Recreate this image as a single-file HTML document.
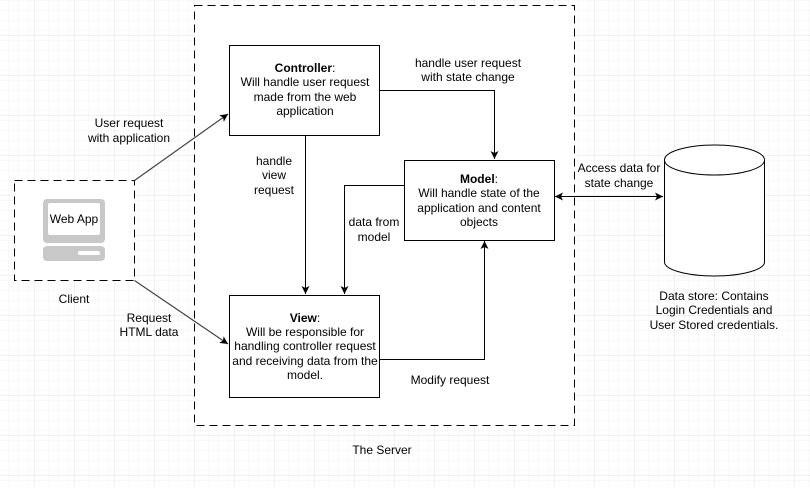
<!DOCTYPE html>
<html><head><meta charset="utf-8"><style>
html,body{margin:0;padding:0;background:#fff}
svg text{font-family:"Liberation Sans",Arial,sans-serif;font-size:12px;fill:#000}
</style></head><body>
<svg width="810" height="486" viewBox="0 0 810 486" xmlns="http://www.w3.org/2000/svg">
<defs>
<pattern id="minor" width="10" height="10" patternUnits="userSpaceOnUse" x="4" y="5">
<path d="M0 0H10M0 0V10" stroke="#f3f3f3" stroke-width="1" fill="none"/>
</pattern>
<pattern id="major" width="40" height="40" patternUnits="userSpaceOnUse" x="34.5" y="35.5">
<rect width="40" height="40" fill="url(#minor)"/>
<path d="M0 0H40M0 0V40" stroke="#e0e0e0" stroke-width="1" fill="none"/>
</pattern>
<marker id="ah" markerWidth="10" markerHeight="10" refX="9" refY="5" orient="auto" markerUnits="userSpaceOnUse">
<path d="M1 1L9 5L1 9L3 5Z" fill="#000"/>
</marker>
<marker id="ahg" markerWidth="10" markerHeight="10" refX="9" refY="5" orient="auto" markerUnits="userSpaceOnUse">
<path d="M1 1L9 5L1 9L3 5Z" fill="#000"/>
</marker>
<marker id="ahs" markerWidth="10" markerHeight="10" refX="1" refY="5" orient="auto" markerUnits="userSpaceOnUse">
<path d="M9 1L1 5L9 9L7 5Z" fill="#000"/>
</marker>
</defs>
<rect width="810" height="486" fill="#fff"/>
<rect width="810" height="486" fill="url(#major)"/>

<!-- server -->
<rect x="194.5" y="5.5" width="380" height="420" fill="#fff" stroke="#000" stroke-dasharray="8 5"/>
<text x="382" y="454" text-anchor="middle">The Server</text>

<!-- client -->
<rect x="14.5" y="180.5" width="120" height="100" fill="#fff" stroke="#000" stroke-dasharray="8 5"/>
<rect x="43" y="199" width="62" height="44" rx="4" fill="#c8c8c8"/>
<rect x="48" y="203" width="52" height="32" rx="2" fill="#fff"/>
<rect x="43" y="246" width="62" height="15" rx="4" fill="#c8c8c8"/>
<rect x="78" y="251" width="22" height="4" rx="2" fill="#fff"/>
<text x="74" y="223" text-anchor="middle">Web App</text>
<text x="74" y="303" text-anchor="middle">Client</text>

<!-- client arrows -->
<line x1="134.5" y1="180.5" x2="228" y2="114" stroke="#444" stroke-width="1.2" marker-end="url(#ahg)"/>
<line x1="134.5" y1="280.5" x2="228" y2="344" stroke="#444" stroke-width="1.2" marker-end="url(#ahg)"/>
<text x="129" y="127" text-anchor="middle">User request</text>
<text x="129" y="142" text-anchor="middle">with application</text>
<text x="149" y="322" text-anchor="middle">Request</text>
<text x="149" y="336" text-anchor="middle">HTML data</text>

<!-- controller -->
<rect x="229.5" y="45.5" width="150" height="90" fill="#fff" stroke="#000"/>
<text x="305" y="72" text-anchor="middle"><tspan font-weight="bold">Controller</tspan>:</text>
<text x="305" y="86" text-anchor="middle">Will handle user request</text>
<text x="305" y="101" text-anchor="middle">made from the web</text>
<text x="305" y="115" text-anchor="middle">application</text>

<!-- model -->
<rect x="404.5" y="160.5" width="150" height="80" fill="#fff" stroke="#000"/>
<text x="479" y="183" text-anchor="middle"><tspan font-weight="bold">Model</tspan>:</text>
<text x="479" y="197" text-anchor="middle">Will handle state of the</text>
<text x="479" y="212" text-anchor="middle">application and content</text>
<text x="479" y="226" text-anchor="middle">objects</text>

<!-- view -->
<rect x="229.5" y="295.5" width="150" height="102" fill="#fff" stroke="#000"/>
<text x="305" y="322" text-anchor="middle"><tspan font-weight="bold">View</tspan>:</text>
<text x="305" y="336" text-anchor="middle">Will be responsible for</text>
<text x="305" y="350" text-anchor="middle">handling controller request</text>
<text x="305" y="365" text-anchor="middle">and receiving data from the</text>
<text x="305" y="379" text-anchor="middle">model.</text>

<!-- connectors -->
<path d="M380 90.5H494.5V159" fill="none" stroke="#000" marker-end="url(#ah)"/>
<text x="468" y="67" text-anchor="middle">handle user request</text>
<text x="468" y="81" text-anchor="middle">with state change</text>
<path d="M305.5 135V294" fill="none" stroke="#000" marker-end="url(#ah)"/>
<text x="274" y="165" text-anchor="middle">handle</text>
<text x="274" y="179" text-anchor="middle">view</text>
<text x="274" y="194" text-anchor="middle">request</text>
<path d="M404 185.5H344.5V294" fill="none" stroke="#000" marker-end="url(#ah)"/>
<text x="374" y="226" text-anchor="middle">data from</text>
<text x="374" y="241" text-anchor="middle">model</text>
<path d="M380 359.5H484.5V241" fill="none" stroke="#000" marker-end="url(#ah)"/>
<text x="450" y="384" text-anchor="middle">Modify request</text>

<!-- data store -->
<path d="M555 196.5H663" fill="none" stroke="#000" marker-start="url(#ahs)" marker-end="url(#ah)"/>
<text x="619" y="172" text-anchor="middle">Access data for</text>
<text x="619" y="187" text-anchor="middle">state change</text>
<path d="M664.5 160V262A50 14 0 0 0 764.5 262V160" fill="#fff" stroke="#000"/>
<ellipse cx="714.5" cy="160" rx="50" ry="15" fill="#fff" stroke="#000"/>
<text x="714" y="300" text-anchor="middle">Data store: Contains</text>
<text x="714" y="314" text-anchor="middle">Login Credentials and</text>
<text x="714" y="329" text-anchor="middle">User Stored credentials.</text>
</svg>
</body></html>
